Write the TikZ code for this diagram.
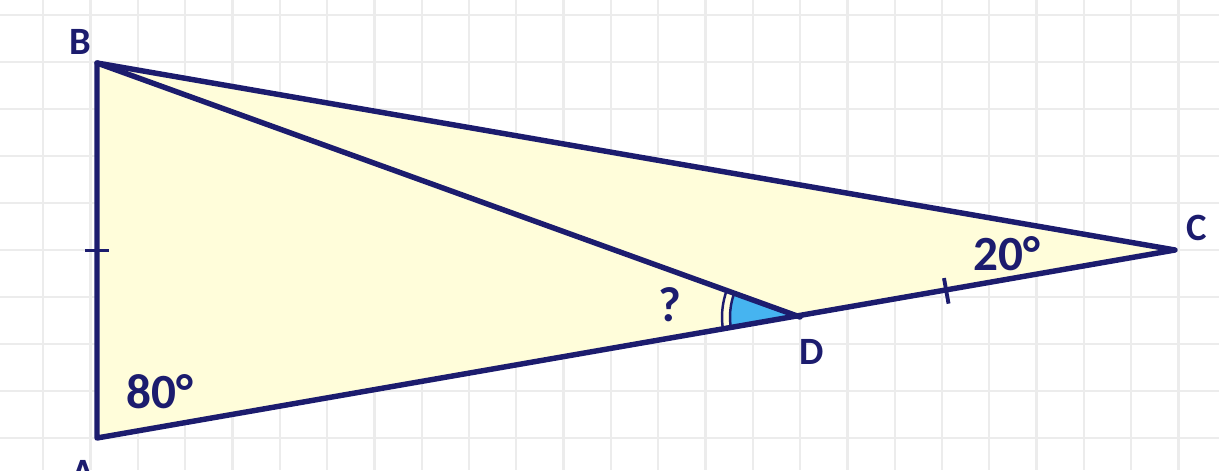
\documentclass[tikz,border=0pt]{standalone}
\usepackage{fontspec}
\setsansfont{Carlito}
\usepackage{tikz}
\usetikzlibrary{calc}
\definecolor{Navy}{RGB}{28, 28, 110}
\definecolor{PaleYellow}{RGB}{255, 253, 218}
\definecolor{SkyFill}{RGB}{70, 180, 240}
\definecolor{GridGray}{RGB}{236, 236, 236}

\begin{document}
\begin{tikzpicture}[
                    x=0.02cm, y=0.02cm,
                    side/.style={draw=Navy, line width=3.1pt, line join=round, line cap=round},
                    tick/.style={draw=Navy, line width=2.2pt},
                    vlabel/.style={text=Navy, font=\sffamily\bfseries\fontsize{22}{22}\selectfont, inner sep=0pt},
                    alabel/.style={text=Navy, font=\sffamily\bfseries\fontsize{28}{28}\selectfont, inner sep=0pt}
                ]
                    \useasboundingbox (0,0) rectangle (1219,470);
                    % grid paper
                    \foreach \gx in {0,...,26} {
                        \draw[GridGray, line width=1.3pt] ({-4+47.3*\gx},0) -- ({-4+47.3*\gx},470);
                    }
                    \foreach \gy in {0,...,9} {
                        \draw[GridGray, line width=1.3pt] (0,{455-47*\gy}) -- (1219,{455-47*\gy});
                    }

                    \coordinate (A) at (97,32);
                    \coordinate (B) at (97,407);
                    \coordinate (C) at (1175,220);
                    \coordinate (D) at (800,153);

                    \fill[PaleYellow] (A) -- (B) -- (C) -- cycle;

                    % angle at D
                    \fill[SkyFill] (D) -- ($(D)!1.4cm!(B)$) arc[start angle=160.1, end angle=189.8, radius=1.4cm] -- cycle;
                    \draw[Navy, line width=1.4pt] ($(D)!1.4cm!(B)$) arc[start angle=160.1, end angle=189.8, radius=1.4cm];
                    \draw[Navy, line width=1.4pt] ($(D)!1.56cm!(B)$) arc[start angle=160.1, end angle=189.8, radius=1.56cm];

                    \draw[side] (A) -- (B) -- (C) -- cycle;
                    \draw[side] (B) -- (D);

                    % equal marks
                    \coordinate (tkAB) at ($(A)!0.5!(B)$);
                    \coordinate (tkDC) at ($(D)!0.39!(C)$);
                    \draw[tick] ($(tkAB)!0.24cm!90:(B)$) -- ($(tkAB)!0.24cm!-90:(B)$);
                    \draw[tick] ($(tkDC)!0.26cm!90:(C)$) -- ($(tkDC)!0.26cm!-90:(C)$);

                    \node[vlabel] (lblA) at (83,-3) {A};
                    \node[vlabel] (lblB) at (80,428) {B};
                    \node[vlabel] (lblC) at (1197,242) {C};
                    \node[vlabel] (lblD) at (812,118) {D};
                    \node[alabel] (ang80) at (160,78) {80°};
                    \node[alabel] (ang20) at (1007,216) {20°};
                    \node[alabel] (angq) at (670,165) {?};
                \end{tikzpicture}
\end{document}
